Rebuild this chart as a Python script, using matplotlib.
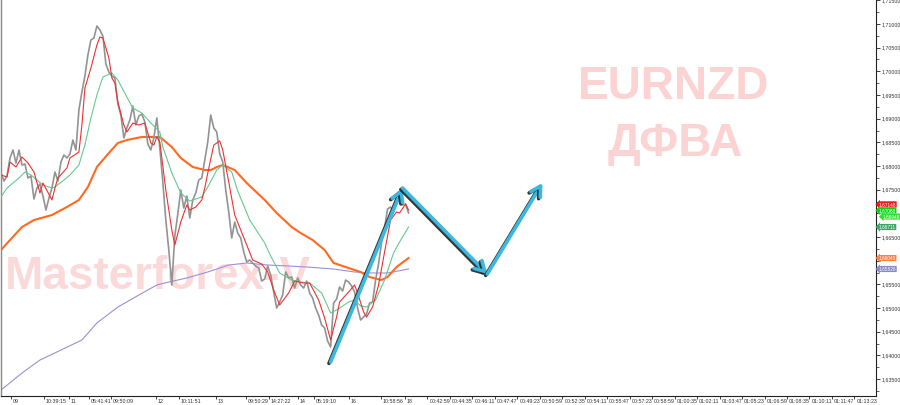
import matplotlib
matplotlib.use('Agg')
import matplotlib.pyplot as plt
import numpy as np
from matplotlib.patches import FancyArrowPatch
import matplotlib.patheffects as pe
import matplotlib.transforms as mtransforms
from matplotlib.ticker import FixedLocator, FuncFormatter

# ---------------- data ----------------
price = [
    1.67852, 1.67683, 1.67789, 1.68169, 1.68338, 1.68063, 1.68338, 1.68021, 1.68042, 1.67746,
    1.67789, 1.67303, 1.67535, 1.67620, 1.67366, 1.67070, 1.67324, 1.67535, 1.67873, 1.67683,
    1.68084, 1.68232, 1.68169, 1.68253, 1.68549, 1.68338, 1.69183, 1.69563, 1.69901, 1.70345,
    1.70662, 1.70704, 1.70958, 1.70873, 1.70746, 1.70155, 1.69986, 1.69901, 1.69859, 1.69310,
    1.69077, 1.68592, 1.68803, 1.68972, 1.69268, 1.68866, 1.69056, 1.69099, 1.68930, 1.68465,
    1.68338, 1.68592, 1.69014, 1.68380, 1.67662, 1.66859, 1.66225, 1.65486, 1.66521, 1.66986,
    1.67493, 1.67113, 1.67366, 1.66901, 1.67282, 1.67430, 1.67704, 1.67746, 1.68127, 1.68507,
    1.69077, 1.68803, 1.68718, 1.68253, 1.68084, 1.67493, 1.67028, 1.66479, 1.66817, 1.66584,
    1.66479, 1.66183, 1.65972, 1.66014, 1.65951, 1.65887, 1.65845, 1.65570, 1.65613, 1.65887,
    1.65697, 1.65338, 1.65000, 1.65127, 1.65275, 1.65761, 1.65634, 1.65655, 1.65422, 1.65634,
    1.65486, 1.65422, 1.65570, 1.65317, 1.65211, 1.65000, 1.64852, 1.64641, 1.64577, 1.64303,
    1.64176, 1.65106, 1.65190, 1.65444, 1.65359, 1.65591, 1.65549, 1.65465, 1.65338, 1.65000,
    1.64746, 1.64810, 1.64873, 1.65106, 1.65127, 1.65591, 1.65930, 1.66394, 1.66690, 1.67092,
    1.67134, 1.67028, 1.67324, 1.67345, 1.67176, 1.67197, 1.67007,
]

red_bar = [0, 2, 3, 5, 7, 9, 11, 13, 14, 17, 18, 19, 22, 23, 26, 27, 28, 30, 32, 33, 34, 36, 37,
           38, 39, 41, 42, 44, 46, 48, 50, 51, 52, 53, 55, 57, 58, 60, 62, 63, 65, 67, 68, 69,
           71, 73, 74, 76, 78, 80, 82, 84, 87, 89, 91, 93, 96, 98, 101, 103, 106, 108, 110,
           112, 113, 116, 118, 119, 121, 122, 124, 126, 128, 130, 132, 133, 135, 136]
red_val = [1.67810, 1.67768, 1.68084, 1.67979, 1.68190, 1.68063, 1.67873, 1.67430, 1.67641,
           1.67282, 1.67535, 1.67746, 1.67958, 1.68169, 1.68296, 1.68866, 1.69648, 1.70070,
           1.70556, 1.70725, 1.70704, 1.70282, 1.69859, 1.69753, 1.69352, 1.68866, 1.68718,
           1.68908, 1.68866, 1.68908, 1.68486, 1.68443, 1.68613, 1.68507, 1.67493, 1.66648,
           1.66331, 1.66817, 1.67176, 1.67070, 1.67134, 1.67282, 1.67535, 1.67852, 1.68443,
           1.68528, 1.68338, 1.67662, 1.66964, 1.66648, 1.66331, 1.66014, 1.65929, 1.65761,
           1.65380, 1.65063, 1.65317, 1.65570, 1.65528, 1.65528, 1.65169, 1.64789, 1.64324,
           1.64810, 1.65127, 1.65338, 1.65486, 1.65317, 1.64915, 1.64810, 1.65021, 1.65486,
           1.66183, 1.66859, 1.67028, 1.67007, 1.67197, 1.67070]

green_bar = [0, 2, 6, 8, 10, 12, 14, 17, 18, 21, 23, 26, 28, 30, 32, 34, 37, 39, 42, 44, 47,
             50, 53, 54, 57, 60, 63, 67, 69, 72, 74, 77, 79, 83, 88, 90, 93, 97, 100, 103,
             107, 110, 112, 116, 118, 120, 122, 125, 128, 131, 133, 136]
green_val = [1.67345, 1.67535, 1.67746, 1.67873, 1.67810, 1.67704, 1.67598, 1.67535, 1.67556,
             1.67704, 1.67810, 1.68021, 1.68443, 1.69014, 1.69500, 1.69880, 1.69965, 1.69817,
             1.69458, 1.69225, 1.69120, 1.68908, 1.68718, 1.68401, 1.67852, 1.67429, 1.67260,
             1.67345, 1.67556, 1.67915, 1.68021, 1.67873, 1.67472, 1.66859, 1.66373, 1.66098,
             1.65739, 1.65591, 1.65549, 1.65528, 1.65317, 1.64894, 1.64958, 1.65127, 1.65169,
             1.65042, 1.65021, 1.65169, 1.65591, 1.66162, 1.66394, 1.66711]

orange_bar = [0, 3, 7, 11, 17, 22, 26, 29, 32, 36, 39, 42, 47, 51, 53, 57, 60, 64, 68, 70, 72,
              74, 78, 82, 88, 92, 97, 100, 104, 108, 111, 116, 120, 123, 127, 129, 132, 136]
orange_val = [1.66225, 1.66436, 1.66711, 1.66859, 1.66964, 1.67134, 1.67282, 1.67556, 1.67979,
              1.68275, 1.68486, 1.68549, 1.68613, 1.68613, 1.68613, 1.68401, 1.68169, 1.67979,
              1.67915, 1.67915, 1.67979, 1.68021, 1.67915, 1.67641, 1.67282, 1.67007, 1.66711,
              1.66584, 1.66436, 1.66225, 1.65951, 1.65845, 1.65761, 1.65655, 1.65591, 1.65655,
              1.65866, 1.66056]

purple_bar = [0, 7, 13, 20, 27, 32, 39, 46, 52, 56, 62, 69, 76, 82, 89, 96, 102, 111, 118,
              124, 129, 136]
purple_val = [1.63267, 1.63626, 1.63901, 1.64112, 1.64324, 1.64683, 1.65021, 1.65274, 1.65486,
              1.65549, 1.65634, 1.65761, 1.65908, 1.65951, 1.65908, 1.65887, 1.65866, 1.65824,
              1.65761, 1.65740, 1.65740, 1.65824]

arrow_bar = [110, 134, 162.3, 180.7]
arrow_price = [1.63859, 1.67535, 1.65718, 1.67641]

x_tick_labels = ["09", "10:39:15", "11", "05:41:41", "09:50:09", "12", "10:11:51", "13",
                 "09:50:29", "14:27:22", "14", "05:19:10", "16", "10:58:56", "18",
                 "00:42:59", "00:44:35", "00:46:11", "00:47:47", "00:49:23", "00:50:59",
                 "00:52:35", "00:54:11", "00:55:47", "00:57:23", "00:58:59", "01:00:35",
                 "01:02:11", "01:03:47", "01:05:23", "01:06:59", "01:08:35", "01:10:11",
                 "01:11:47", "01:13:23"]
x_tick_bars = [3.3, 14.3, 22.7, 29.3, 36.7, 51.7, 59.3, 71.7, 81.7, 89.3, 99.0, 104.3, 116.0,
               126.7, 134.7] + [142.3 + 7.5 * k for k in range(20)]

y_hidden_labels = [1.660, 1.670]   # covered by the price boxes in the reference

price_boxes = [  # value, text, colour
    (1.67190, "1,67148", "#f01818"),
    (1.67062, "1,67068", "#10d010"),
    (1.66932, "1,66948", "#30e030"),
    (1.66711, "1,66711", "#3aa86a"),
    (1.66056, "1,66045", "#ff8040"),
    (1.65824, "1,65826", "#8888cc"),
]

SMALL = "Liberation Sans"

# ---------------- figure ----------------
fig = plt.figure(figsize=(9, 4.05), dpi=100)
ax = fig.add_axes([1 / 900, 9 / 405, 875 / 900, 396 / 405])
ax.set_xlim(0, 292)
ax.set_ylim(1.63141, 1.71507)

wm = dict(color="#fbd3d3", fontweight="bold", family="Liberation Sans",
          transform=fig.transFigure, zorder=0.5)
ax.text(5 / 900, (405 - 289) / 405, "Masterforex-V", fontsize=33, ha="left",
        va="baseline", alpha=0.85, **wm)
ax.text(674 / 900, (405 - 99) / 405, "EURNZD", fontsize=33, ha="center", va="baseline", **wm)
ax.text(675 / 900, (405 - 156) / 405, "ДФВА", fontsize=33, ha="center", va="baseline", **wm)

x = np.arange(len(price))
ax.plot(purple_bar, purple_val, color="#9a90d8", lw=0.8, zorder=2)
ax.plot(orange_bar, orange_val, color="#ff6a20", lw=1.5, zorder=2)
ax.plot(x, price, color="#939393", lw=1.2, zorder=3)
ax.plot(green_bar, green_val, color="#66c890", lw=0.8, zorder=4)
ax.plot(red_bar, red_val, color="#f03030", lw=0.8, zorder=5)

for i in range(len(arrow_bar) - 1):
    arr = FancyArrowPatch((arrow_bar[i], arrow_price[i]), (arrow_bar[i + 1], arrow_price[i + 1]),
                          arrowstyle="->,head_length=0.7,head_width=0.4", mutation_scale=10,
                          lw=2.6, color="#3ab8e0", shrinkA=0, shrinkB=0, zorder=6,
                          path_effects=[pe.SimpleLineShadow(offset=(-1.2, -1.0),
                                                            shadow_color="#202020", alpha=0.9),
                                        pe.Normal()])
    ax.add_patch(arr)

# spines
ax.spines["top"].set_visible(False)
ax.spines["left"].set_color("#888888")
ax.spines["left"].set_linewidth(1.0)
ax.spines["bottom"].set_color("#222222")
ax.spines["bottom"].set_linewidth(0.8)
ax.spines["right"].set_color("#222222")
ax.spines["right"].set_linewidth(0.8)


def yfmt(v, p):
    if any(abs(v - h) < 1e-6 for h in y_hidden_labels):
        return ""
    return f"{v:.5f}".replace(".", ",")


# y axis on the right
ax.yaxis.tick_right()
ax.yaxis.set_major_locator(FixedLocator(np.arange(1.635, 1.7151, 0.005)))
ax.yaxis.set_minor_locator(FixedLocator(np.arange(1.6325, 1.7151, 0.005)))
ax.yaxis.set_major_formatter(FuncFormatter(yfmt))
ax.tick_params(axis="y", which="major", length=3, width=0.6, pad=1.2, labelsize=3.8,
               labelcolor="#333333", color="#222222")
ax.tick_params(axis="y", which="minor", length=2, width=0.5, color="#222222")
for lbl in ax.get_yticklabels():
    lbl.set_family(SMALL)

# x axis
ax.set_xticks(x_tick_bars)
ax.set_xticklabels(x_tick_labels)
ax.tick_params(axis="x", length=2, width=0.6, pad=0.3, labelsize=3.8, labelcolor="#333333",
               color="#222222")
offset = mtransforms.ScaledTranslation(2 / 100, 0, fig.dpi_scale_trans)
for lbl in ax.get_xticklabels():
    lbl.set_family(SMALL)
    lbl.set_horizontalalignment("left")
    lbl.set_transform(lbl.get_transform() + offset)

# price boxes at right edge
btr = mtransforms.blended_transform_factory(ax.transAxes, ax.transData)
for k, (val, txt, col) in enumerate(price_boxes):
    dx = 0.007 if k == 2 else 0.003
    ax.text(1.0 + dx, val, txt, transform=btr, fontsize=3.4, family=SMALL, color="white",
            ha="left", va="center", zorder=10, clip_on=False,
            bbox=dict(boxstyle="larrow,pad=0.12", fc=col, ec="none"))

fig.savefig("out.png", dpi=100)
